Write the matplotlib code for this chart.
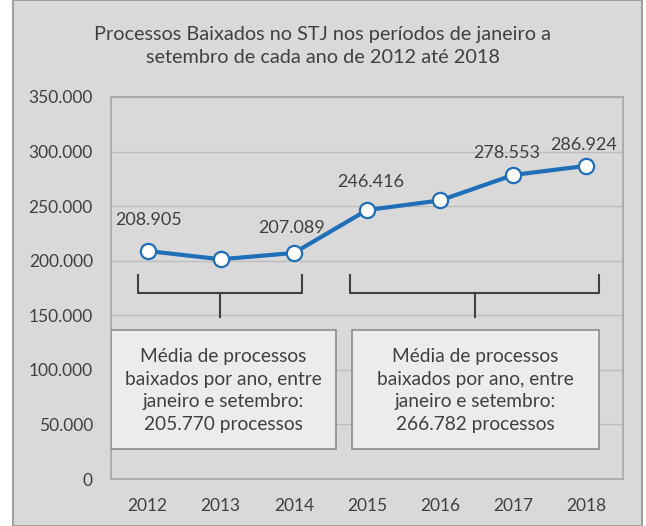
import matplotlib.pyplot as plt
from matplotlib.patches import Rectangle

# data
anos = ['2012', '2013', '2014', '2015', '2016', '2017', '2018']
baixados = [208905, 201316, 207089, 246416, 255235, 278553, 286924]
# which points carry a label, and offset of the label (points)
rotulos = {0: (1, 22), 2: (-2, 18), 3: (3, 20), 5: (-5, 16), 6: (-2, 15)}
yticks = [0, 50000, 100000, 150000, 200000, 250000, 300000, 350000]
media_1 = 'Média de processos\nbaixados por ano, entre\njaneiro e setembro:\n205.770 processos'
media_2 = 'Média de processos\nbaixados por ano, entre\njaneiro e setembro:\n266.782 processos'

def fmt(v):
    return '{:,}'.format(v).replace(',', '.')

plt.rcParams['font.family'] = ['Lato', 'DejaVu Sans']
txt = '#404040'
bg = '#d9d9d9'
grid = '#bdbdbd'
azul = '#1f6fb8'

fig = plt.figure(figsize=(6.46, 5.26), dpi=100)
fig.patch.set_facecolor('white')
W, H = 646, 526
#outer frame
fig.add_artist(Rectangle((13/W, 0), (642-13)/W, (H-5)/H + 0.01, transform=fig.transFigure,
                         facecolor=bg, edgecolor='#a0a0a0', linewidth=1.5, zorder=-5))

ax = fig.add_axes([111/W, (H-479)/H, (623-111)/W, (479-97)/H])
ax.set_facecolor(bg)
x = list(range(len(anos)))
ax.plot(x, baixados, color=azul, linewidth=3, marker='o', markersize=11,
        markerfacecolor='white', markeredgecolor=azul, markeredgewidth=1.6, zorder=5)
for i, (dx, dy) in rotulos.items():
    ax.annotate(fmt(baixados[i]), (x[i], baixados[i]), xytext=(dx, dy),
                textcoords='offset points', ha='center', va='center',
                fontsize=13, color=txt, zorder=6)

ax.set_xlim(-0.5, len(anos) - 0.5)
ax.set_ylim(0, 350000)
ax.set_xticks(x)
ax.set_xticklabels(anos)
ax.set_yticks(yticks)
ax.set_yticklabels([fmt(v) for v in yticks])
ax.tick_params(length=0, labelsize=12.5, colors=txt)
ax.tick_params(axis='x', pad=14)
ax.tick_params(axis='y', pad=13)
ax.grid(axis='y', color=grid, linewidth=1)
ax.set_axisbelow(True)
for s in ax.spines.values():
    s.set_color('#a6a6a6')
    s.set_linewidth(1.2)

# brackets
def chave(x0, x1, xm, ytop, ymid, ybot):
    ax.plot([x0, x0, x1, x1], [ytop, ymid, ymid, ytop], color=txt, lw=1.5, zorder=4)
    ax.plot([xm, xm], [ymid, ybot], color=txt, lw=1.5, zorder=4)

chave(-0.13, 2.11, 0.99, 186900, 170400, 148400)
chave(2.77, 6.17, 4.48, 186900, 170400, 148400)

# boxes
for x0, x1, s in [(-0.5, 2.58, media_1), (2.79, 6.17, media_2)]:
    ax.add_patch(Rectangle((x0, 27500), x1 - x0, 136500 - 27500, facecolor='#ececec',
                           edgecolor='#8c8c8c', linewidth=1.2, zorder=3))
    ax.text((x0 + x1) / 2, 81000, s, ha='center', va='center', fontsize=13.8,
            color=txt, linespacing=1.4, zorder=4)

fig.text(0.5, (H-46)/H, 'Processos Baixados no STJ nos períodos de janeiro a\nsetembro de cada ano de 2012 até 2018',
         ha='center', va='center', fontsize=14.3, color=txt, linespacing=1.45)

fig.savefig('out.png', dpi=100, facecolor=fig.get_facecolor())
